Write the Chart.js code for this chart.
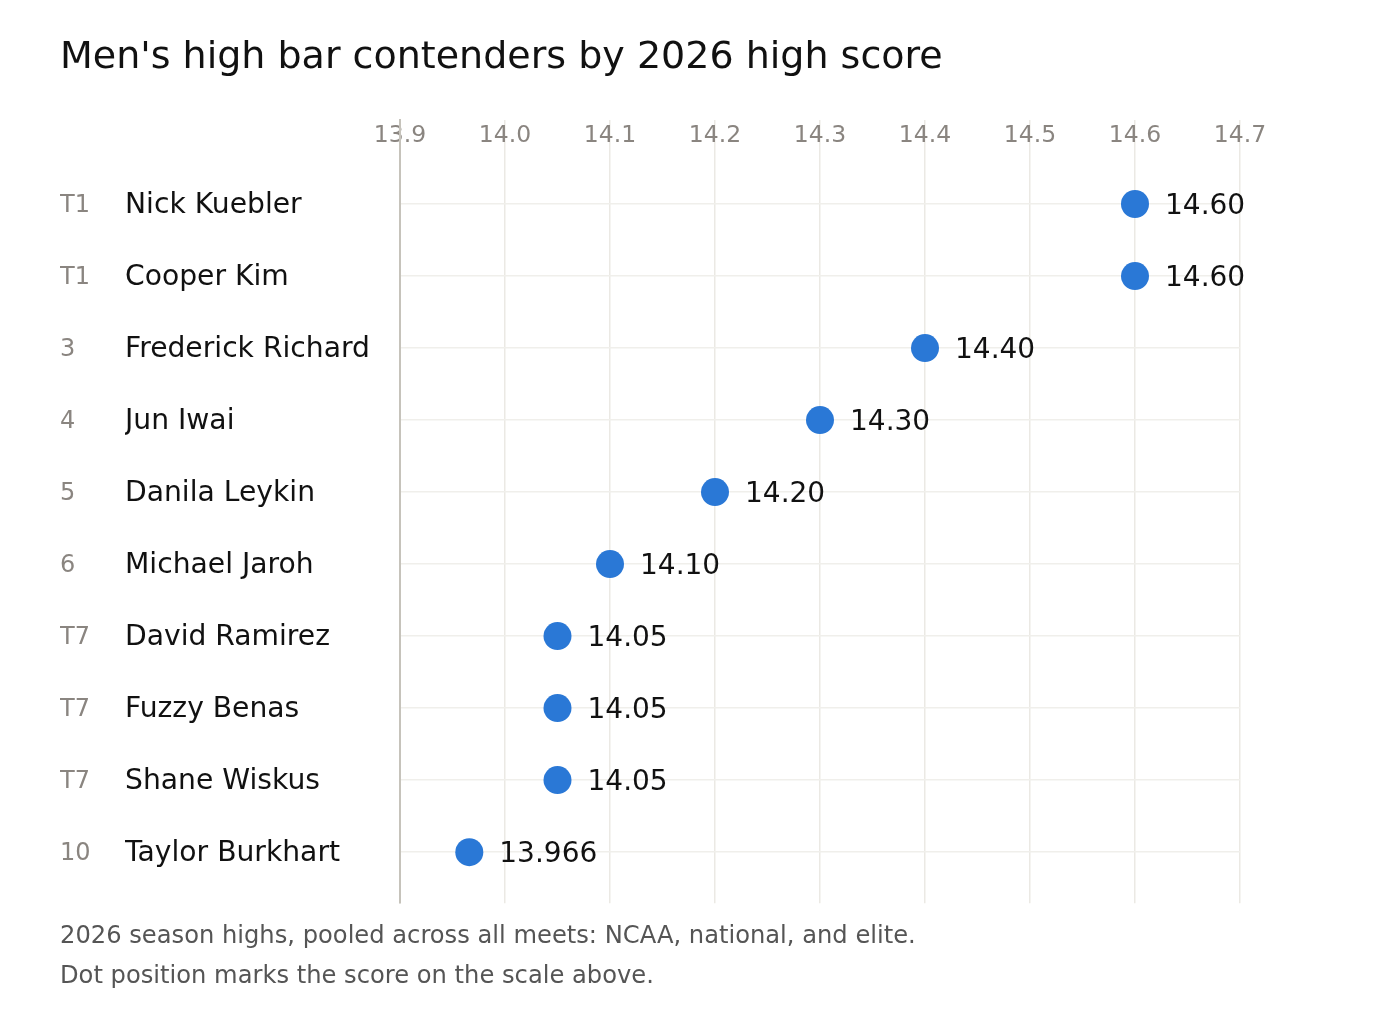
<!DOCTYPE html>
<html>
<head>
<meta charset="utf-8">
<title>Men's high bar contenders</title>
<script src="https://cdn.jsdelivr.net/npm/chart.js@4.4.1/dist/chart.umd.min.js"></script>
<style>
  html, body { margin: 0; padding: 0; background: #fff; }
  #wrap { width: 1400px; height: 1020px; }
</style>
</head>
<body>
<div id="wrap"><canvas id="chart"></canvas></div>
<script>
const ranks = ['T1', 'T1', '3', '4', '5', '6', 'T7', 'T7', 'T7', '10'];
const names = ['Nick Kuebler', 'Cooper Kim', 'Frederick Richard', 'Jun Iwai', 'Danila Leykin',
  'Michael Jaroh', 'David Ramirez', 'Fuzzy Benas', 'Shane Wiskus', 'Taylor Burkhart'];
const scores = [14.6, 14.6, 14.4, 14.3, 14.2, 14.1, 14.05, 14.05, 14.05, 13.966];
const xTicks = [13.9, 14.0, 14.1, 14.2, 14.3, 14.4, 14.5, 14.6, 14.7];

const FONT = "'DejaVu Sans', sans-serif";
Chart.defaults.font.family = FONT;

// 13.966 keeps its three decimals, the rest show two
function fmt(v) {
  const s = String(v);
  const dec = s.includes('.') ? s.split('.')[1].length : 0;
  return dec > 2 ? s : v.toFixed(2);
}

const rowTicks = scale => {
  scale.ticks = names.map((_, i) => ({ value: i }));
};

const valueLabels = {
  id: 'valueLabels',
  afterDatasetsDraw(chart) {
    const ctx = chart.ctx;
    const meta = chart.getDatasetMeta(0);
    ctx.save();
    ctx.font = '28px ' + FONT;
    ctx.fillStyle = '#111';
    ctx.textAlign = 'left';
    ctx.textBaseline = 'alphabetic';
    meta.data.forEach((pt, i) => {
      ctx.fillText(fmt(scores[i]), pt.x + 30, pt.y + 10);
    });
    ctx.restore();
  }
};

new Chart(document.getElementById('chart'), {
  type: 'scatter',
  data: {
    datasets: [{
      data: scores.map((s, i) => ({ x: s, y: i })),
      backgroundColor: '#2a78d6',
      borderWidth: 0,
      pointRadius: 14,
      pointHoverRadius: 14
    }]
  },
  options: {
    responsive: true,
    maintainAspectRatio: false,
    animation: false,
    events: [],
    layout: { padding: { left: 60, right: 160, top: 22, bottom: 23 } },
    plugins: {
      legend: { display: false },
      tooltip: { enabled: false },
      title: {
        display: true,
        text: "Men's high bar contenders by 2026 high score",
        align: 'start',
        color: '#111',
        font: { size: 38, weight: 'normal' },
        padding: { top: 13, bottom: 39.4 }
      },
      subtitle: {
        display: true,
        position: 'bottom',
        align: 'start',
        text: ['2026 season highs, pooled across all meets: NCAA, national, and elite.',
          'Dot position marks the score on the scale above.'],
        color: '#555',
        font: { size: 24.2, weight: 'normal', lineHeight: 1.65 },
        padding: { top: 14, bottom: 0 }
      }
    },
    scales: {
      x: {
        type: 'linear',
        position: 'top',
        min: 13.9,
        max: 14.7,
        afterBuildTicks: scale => { scale.ticks = xTicks.map(v => ({ value: v })); },
        afterFit: scale => { scale.height = 0; },
        ticks: {
          color: '#8a8580',
          font: { size: 23.5 },
          mirror: true,
          padding: 2,
          maxRotation: 0,
          callback: v => Number(v).toFixed(1)
        },
        grid: { color: '#ebe9e4', lineWidth: 1.5, drawTicks: false },
        border: { display: false }
      },
      y: {
        type: 'linear',
        position: 'left',
        reverse: true,
        min: -1.1667,
        max: 9.7083,
        afterBuildTicks: rowTicks,
        afterFit: scale => { scale.width = 275; },
        ticks: {
          color: '#111',
          // empty first line nudges the name down onto the shared baseline
          font: { size: 28.2, lineHeight: 0.11 },
          crossAlign: 'far',
          callback: v => ['', names[v]]
        },
        grid: { color: '#f0efeb', lineWidth: 1.5, drawTicks: false },
        border: { display: true, color: '#c6c3bb', width: 2 }
      },
      rank: {
        type: 'linear',
        axis: 'y',
        position: 'left',
        weight: 1,
        reverse: true,
        min: -1.1667,
        max: 9.7083,
        afterBuildTicks: rowTicks,
        afterFit: scale => { scale.width = 65; },
        ticks: {
          color: '#8a8580',
          font: { size: 24, lineHeight: 0.15 },
          crossAlign: 'far',
          callback: v => ['', ranks[v]]
        },
        grid: { display: false, drawTicks: false },
        border: { display: false }
      }
    }
  },
  plugins: [valueLabels]
});
</script>
</body>
</html>
